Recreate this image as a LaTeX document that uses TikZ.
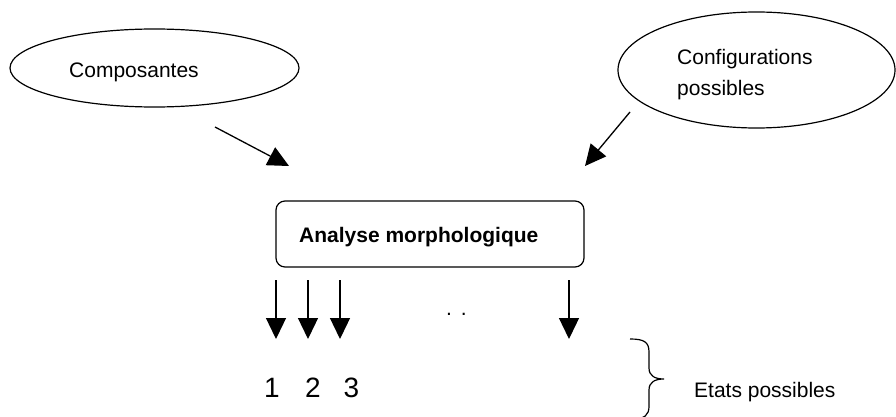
\documentclass[tikz,border=0pt]{standalone}
\usepackage{fontspec}
\setmainfont{Liberation Sans}
\usetikzlibrary{shapes.geometric,arrows.meta}
\tikzset{
  line/.style={line width=1.2pt},
  arr/.style={line width=1.3pt,-{Triangle[width=20pt,length=21pt]}},
  lbl/.style={inner sep=0pt,anchor=base west,font=\fontsize{21}{25}\selectfont},
  num/.style={inner sep=0pt,anchor=base,font=\fontsize{28}{32}\selectfont}
}
\begin{document}
\begin{tikzpicture}[x=1pt,y=-1pt]
\useasboundingbox[fill=white] (0,0) rectangle (896,417);
% ellipses
\node[draw,line,ellipse,inner sep=0pt,minimum width=289pt,minimum height=78pt] (e1) at (154.5,68) {};
\node[lbl] (comp) at (69,78) {Composantes};
\node[draw,line,ellipse,inner sep=0pt,minimum width=277pt,minimum height=116pt] (e2) at (756.5,70) {};
\node[lbl] (conf1) at (677,65) {Configurations};
\node[lbl] (conf2) at (677,96) {possibles};
% diagonal arrows
\coordinate (a1s) at (215,127);
\coordinate (a1e) at (289,166);
\coordinate (a2s) at (630,112);
\coordinate (a2e) at (585,166);
\draw[arr] (a1s) -- (a1e);
\draw[arr] (a2s) -- (a2e);
% box
\node[draw,line,rounded corners=9pt,minimum width=308pt,minimum height=66pt,inner sep=0pt] (box) at (430,234) {};
\node[lbl,font=\fontsize{21}{25}\selectfont\bfseries] (am) at (299,242) {Analyse morphologique};
% vertical arrows
\foreach \x/\n in {276/v1,308/v2,340/v3,569/v4}{
  \coordinate (\n s) at (\x,280);
  \coordinate (\n e) at (\x,339);
  \draw[arr] (\n s) -- (\n e);
}
% dots
\node[inner sep=0pt,anchor=base,font=\fontsize{21}{25}\selectfont] (dots) at (456.5,315) {.\hspace{9pt}.};
% numbers
\node[num] (n1) at (272,397) {1};
\node[num] (n2) at (313,397) {2};
\node[num] (n3) at (351.5,397) {3};
% brace
\draw[line] (630,339) .. controls (644,339) and (649,342) .. (649,352)
  -- (649,368) .. controls (649,376) and (655,379) .. (664,379)
  (664,379) .. controls (655,379) and (649,382) .. (649,390)
  -- (649,406) .. controls (649,415) and (645,419) .. (632,419);
\node[lbl] (etats) at (694,397) {Etats possibles};
\end{tikzpicture}
\end{document}
